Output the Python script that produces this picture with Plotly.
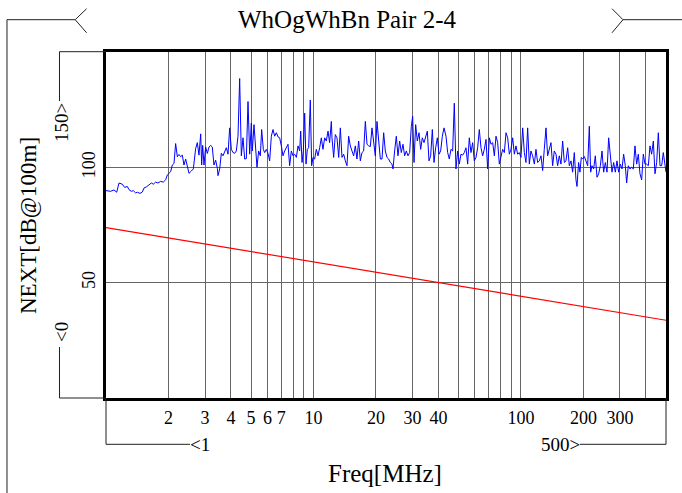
import math
import plotly.graph_objects as go

# ---- data ----
freq_mhz = [
    1.00, 1.053, 1.093, 1.126, 1.155, 1.198, 1.230, 1.267, 1.291, 1.325, 1.354, 1.390, 1.416, 1.458, 1.497, 1.524,
    1.570, 1.611, 1.654, 1.691, 1.735, 1.781, 1.834, 1.889, 1.939, 1.975, 2.012, 2.049, 2.087, 2.127, 2.166, 2.207,
    2.248, 2.290, 2.333, 2.376, 2.421, 2.466, 2.512, 2.578, 2.636, 2.704, 2.755, 2.806, 2.860, 2.891, 2.924, 2.967,
    3.022, 3.079, 3.136, 3.195, 3.253, 3.314, 3.377, 3.440,
    3.466, 3.530, 3.596, 3.664, 3.732, 3.802, 3.873, 3.945, 4.018, 4.093, 4.170, 4.248, 4.327, 4.408, 4.490, 4.574,
    4.660, 4.746, 4.835, 4.926, 5.017, 5.073, 5.167, 5.264, 5.342, 5.441, 5.543, 5.626, 5.731, 5.817, 5.925,
    6.036, 6.149, 6.264, 6.381, 6.501, 6.622, 6.745, 6.871, 6.998, 7.129, 7.262, 7.399, 7.537, 7.676, 7.821, 7.967,
    8.115, 8.268, 8.422, 8.578, 8.675, 8.805, 8.935, 9.068, 9.204, 9.340, 9.478, 9.654, 9.799, 9.945,
    10.13, 10.32, 10.51, 10.71, 10.91, 11.11, 11.32, 11.53, 11.75, 11.96, 12.19,
    12.28, 12.51, 12.74, 12.98, 13.23, 13.47, 13.72, 13.98, 14.24, 14.50, 14.77, 15.05, 15.33, 15.62, 15.91, 16.20,
    16.51, 16.82, 17.13, 17.45, 17.78, 18.11, 18.45, 18.79, 19.14, 19.50, 19.86, 20.23, 20.61, 21.00, 21.39, 21.79,
    22.19, 22.61, 23.03, 23.46, 23.89, 24.16, 24.61, 25.07, 25.54, 26.02, 26.50, 27.00, 27.50, 28.02, 28.54, 29.07,
    29.62, 30.06, 30.51, 31.08, 31.65, 32.25, 32.85, 33.46, 34.09, 34.72, 35.37, 36.03, 36.71, 37.39, 38.09, 38.80,
    39.53, 40.27, 41.02, 41.78, 42.56,
    43.51, 44.33, 45.14, 45.99, 46.85, 47.72, 48.61, 49.53, 50.44, 51.38, 52.36, 53.33, 54.32, 55.34, 56.36, 57.41,
    58.49, 59.58, 60.69, 61.83, 62.98, 64.16, 65.36, 66.58, 67.83, 69.10, 70.39, 71.70, 73.05, 74.41, 75.80, 77.22,
    78.66, 80.13, 81.62, 83.15, 84.70, 86.28, 87.88, 89.52, 91.18, 92.89, 94.61, 96.36, 98.17, 100.0, 101.9, 103.8,
    105.7, 107.7, 109.7, 111.7, 113.8, 116.0, 118.1, 120.3, 122.6, 124.9, 127.2, 129.5, 132.0, 134.4, 136.9, 139.5,
    142.1, 144.7,
    147.5, 150.2, 153.0, 155.9, 158.8, 161.8, 164.8, 167.9, 171.0, 174.2, 177.4, 180.7, 184.1, 186.2, 189.6, 192.4,
    195.3, 198.3, 202.0, 205.8, 209.6, 213.5, 216.7, 219.9, 224.0, 228.2, 232.5, 236.8, 241.3, 245.8, 250.3, 255.0,
    259.8, 264.6, 269.6, 274.6, 279.7, 284.9, 290.2, 295.6, 301.2, 306.8, 312.5, 318.3, 323.1, 329.1, 335.3, 341.5,
    347.9, 354.4, 361.0, 367.7, 374.6, 381.6, 388.7, 396.0, 403.3, 411.0, 418.6, 426.4, 434.4, 442.5, 450.8, 459.2,
    467.8, 476.5, 485.3, 492.6, 500.0,
]

next_db = [
    89.9, 89.6, 90.2, 89.2, 93.2, 92.7, 91.3, 91.7, 90.3, 89.6, 89.9, 88.9, 89.2, 88.7, 89.3, 91.0,
    91.6, 92.5, 93.2, 92.7, 93.6, 93.2, 93.9, 93.6, 94.6, 96.7, 97.4, 98.1, 101.0, 101.7, 110.3, 104.6,
    105.6, 104.6, 105.3, 101.0, 103.6, 99.6, 97.4, 98.4, 99.3, 108.1, 110.7, 105.3, 114.5, 101.0, 109.5, 101.0,
    108.8, 106.0, 108.8, 109.5, 108.8, 101.0, 103.1, 99.6,
    96.4, 99.3, 106.1, 105.0, 107.1, 108.5, 105.7, 117.1, 107.8, 106.4, 106.1, 107.1, 113.5, 138.5, 105.0, 112.8,
    103.6, 103.8, 128.5, 105.7, 119.2, 107.1, 118.5, 107.8, 100.0, 107.1, 105.0, 116.4, 107.8, 106.4, 107.8,
    106.1, 102.8, 113.5, 116.4, 113.5, 115.0, 113.2, 112.8, 109.3, 105.0, 107.1, 108.5, 110.0, 100.7, 107.1, 105.0,
    105.7, 104.3, 109.3, 107.1, 115.7, 102.1, 107.1, 123.5, 101.4, 107.8, 108.5, 129.2, 100.7, 104.3,
    103.6, 107.8, 105.0, 108.5, 112.8, 107.8, 112.8, 111.4, 115.7, 110.7, 119.9,
    112.8, 104.3, 114.2, 112.8, 104.3, 117.1, 104.3, 105.7, 102.8, 100.7, 113.5, 109.3, 107.1, 105.0, 109.3, 103.6,
    111.4, 102.8, 106.4, 107.1, 119.9, 110.0, 109.3, 109.0, 117.1, 112.1, 105.0, 119.9, 111.4, 103.6, 103.6, 115.0,
    107.1, 104.3, 103.6, 102.1, 101.4, 99.3, 107.1, 113.5, 105.0, 111.4, 106.4, 110.0, 105.0, 107.1, 105.0, 106.4,
    117.8, 122.1, 102.1, 118.5, 111.4, 115.0, 107.8, 112.8, 110.7, 112.8, 115.7, 102.8, 105.0, 116.4, 102.1, 108.5,
    112.8, 105.7, 107.1, 113.5, 117.1,
    113.5, 106.4, 103.6, 107.8, 107.1, 127.8, 99.3, 107.1, 101.4, 105.7, 105.3, 106.4, 108.5, 101.4, 112.8, 106.4,
    110.7, 102.8, 104.3, 108.5, 116.4, 108.5, 105.0, 107.8, 112.1, 99.3, 112.8, 110.0, 110.7, 105.0, 113.5, 110.7,
    101.4, 105.0, 107.8, 106.4, 115.0, 112.8, 105.7, 107.8, 112.8, 105.7, 109.3, 105.7, 106.4, 104.3, 117.1, 106.4,
    102.1, 117.1, 101.4, 107.1, 105.0, 101.4, 107.8, 102.1, 102.8, 105.0, 98.6, 107.8, 117.1, 105.0, 107.8, 110.7,
    100.7, 107.1,
    105.7, 100.7, 105.0, 101.4, 111.4, 102.1, 102.8, 108.5, 100.7, 102.8, 97.9, 106.4, 94.6, 91.7, 102.1, 97.9,
    104.3, 103.6, 104.7, 102.1, 100.7, 117.8, 97.9, 100.7, 99.3, 105.0, 95.7, 97.2, 100.7, 107.1, 97.9, 102.1,
    97.9, 112.8, 103.6, 97.9, 102.1, 97.9, 102.8, 97.9, 101.4, 99.3, 105.7, 100.7, 93.2, 100.7, 99.3, 100.0,
    99.3, 109.3, 101.4, 105.7, 97.2, 94.6, 105.7, 101.4, 101.4, 100.7, 109.3, 105.7, 111.4, 97.2, 102.1, 115.0,
    100.7, 100.7, 106.4, 101.4, 97.9,
]

limit_freq_mhz = [1.0, 500.0]
limit_db = [73.9, 33.7]

grid_freqs = [2, 3, 4, 5, 6, 7, 8, 9, 10, 20, 30, 40, 50, 60, 70, 80, 90, 100, 200, 300, 400]
grid_labels = ["2", "3", "4", "5", "6", "7", "", "", "10", "20", "30", "40", "", "", "", "", "",
               "100", "200", "300", ""]
y_ticks = [50, 100]
y_labels = ["50", "100"]

title_text = "WhOgWhBn Pair 2-4"
x_title = "Freq[MHz]"
y_title = "NEXT[dB@100m]"
x_min, x_max = 1, 500
y_min, y_max = 0, 150

# ---- layout geometry (pixels) ----
W, H = 682, 493
L, R, T, B = 106, 666, 52, 398
FONT = "Liberation Serif"


def px(x):
    return (x - L) / (R - L)


def py(y):
    return (B - y) / (B - T)


fig = go.Figure()
fig.add_trace(go.Scatter(x=freq_mhz, y=next_db, mode="lines",
                         line=dict(color="#0000ff", width=1.0), hoverinfo="skip"))
fig.add_trace(go.Scatter(x=limit_freq_mhz, y=limit_db, mode="lines",
                         line=dict(color="#ff0000", width=1.2), hoverinfo="skip"))

line_col = "#202020"
shapes = []


def seg(pts, color=line_col, width=1):
    path = "M " + " L ".join(f"{px(a):.5f},{py(b):.5f}" for a, b in pts)
    shapes.append(dict(type="path", path=path, xref="paper", yref="paper",
                       line=dict(color=color, width=width), layer="above"))


# outer bracket at top-left and top-right
seg([(7, 493), (7, 19.7), (75, 19.7)])
seg([(86.6, 8.7), (75.2, 19.7), (86.6, 32.8)])
seg([(612, 8.7), (623, 19.7), (612, 32.8)])
seg([(623, 19.7), (682, 19.7)])
# left y-range bracket
seg([(L, 51.7), (59.5, 51.7), (59.5, 101)])
seg([(59.5, 347), (59.5, B), (L, B)])
# bottom x-range bracket
seg([(L, B), (L, 444.3), (190, 444.3)])
seg([(580, 444.3), (R, 444.3), (R, B)])

ann_font = dict(family=FONT, size=19, color="black")
annotations = [
    dict(text=title_text, x=px(347), y=py(19.7), xref="paper", yref="paper", showarrow=False,
         xanchor="center", yanchor="middle", font=dict(family=FONT, size=25, color="black")),
    dict(text=x_title, x=px(385), y=py(473), xref="paper", yref="paper", showarrow=False,
         xanchor="center", yanchor="middle", font=dict(family=FONT, size=25, color="black")),
    dict(text=y_title, x=px(28), y=py(226), xref="paper", yref="paper", showarrow=False,
         textangle=-90, xanchor="center", yanchor="middle",
         font=dict(family=FONT, size=23, color="black")),
    dict(text="150&gt;", x=px(61), y=py(123), xref="paper", yref="paper", showarrow=False,
         textangle=-90, xanchor="center", yanchor="middle", font=ann_font),
    dict(text="&lt;0", x=px(61), y=py(332), xref="paper", yref="paper", showarrow=False,
         textangle=-90, xanchor="center", yanchor="middle", font=ann_font),
    dict(text="&lt;1", x=px(200), y=py(444.3), xref="paper", yref="paper", showarrow=False,
         xanchor="center", yanchor="middle", font=ann_font),
    dict(text="500&gt;", x=px(560), y=py(444.3), xref="paper", yref="paper", showarrow=False,
         xanchor="center", yanchor="middle", font=ann_font),
]

fig.update_layout(
    width=W, height=H, autosize=False,
    margin=dict(l=L, r=W - R, t=T, b=H - B, pad=0),
    paper_bgcolor="white", plot_bgcolor="white",
    showlegend=False,
    shapes=shapes, annotations=annotations,
    xaxis=dict(type="log", range=[math.log10(x_min), math.log10(x_max)],
               tickmode="array", tickvals=grid_freqs, ticktext=grid_labels,
               showgrid=True, gridcolor="#666666", gridwidth=1,
               showline=True, mirror=True, linecolor="black", linewidth=2.5,
               ticks="", ticklabelstandoff=2, zeroline=False,
               tickfont=dict(family=FONT, size=18, color="black")),
    yaxis=dict(range=[y_min, y_max], tickmode="array", tickvals=y_ticks, ticktext=y_labels,
               tickangle=-90, showgrid=True, gridcolor="#666666", gridwidth=1,
               showline=True, mirror=True, linecolor="black", linewidth=2.5,
               ticks="", ticklabelstandoff=1, zeroline=False,
               tickfont=dict(family=FONT, size=18, color="black")),
)

fig.write_html("out.html", config={"displayModeBar": False},
               post_script="document.body.style.margin='0';document.body.style.overflow='hidden';")
